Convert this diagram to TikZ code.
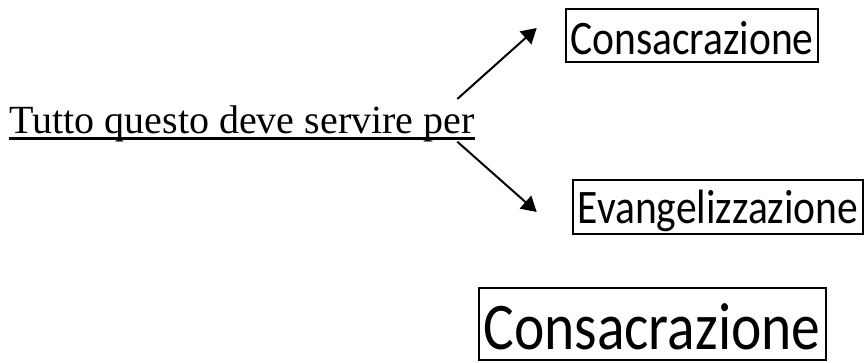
\documentclass[tikz,border=0pt]{standalone}
\usepackage{fontspec}
\setmainfont{Liberation Serif}
\newfontfamily\boxfont{Carlito}
\usetikzlibrary{arrows.meta}
\tikzset{
  labelbox/.style={draw, line width=2pt, inner sep=0pt, text depth=0pt, align=center},
  arr/.style={line width=2pt, -{Triangle[length=15pt,width=17pt]}},
}
\begin{document}
\begin{tikzpicture}[x=1pt,y=-1pt]
\useasboundingbox (0,0) rectangle (864,363);
% main text
\node[inner sep=0pt, anchor=base west] (t) at (9.3,134)
  {\fontsize{40}{44}\selectfont Tutto questo deve servire per};
\draw[line width=2.2pt] ([yshift=-4.6pt]t.base west) -- ([yshift=-4.6pt]t.base east);
% boxes
\node[labelbox, minimum width=252pt, minimum height=53pt, text height=39pt] (c1) at (692,35.5)
  {\boxfont\fontsize{41.5}{44}\selectfont\scalebox{1}[1.16]{Consacrazione}};
\node[labelbox, minimum width=290pt, minimum height=54pt, text height=32.6pt] (e1) at (718,207)
  {\boxfont\fontsize{41.5}{44}\selectfont\scalebox{1}[1.16]{Evangelizzazione}};
\node[labelbox, minimum width=347pt, minimum height=72pt, text height=51pt] (c2) at (652,324)
  {\boxfont\fontsize{57.5}{60}\selectfont\scalebox{1}[1.16]{Consacrazione}};
% arrows
\coordinate (a1s) at (457.3,99);
\coordinate (a1e) at (536.7,28);
\coordinate (a2s) at (457.3,141.7);
\coordinate (a2e) at (536.7,212);
\draw[arr] (a1s) -- (a1e);
\draw[arr] (a2s) -- (a2e);
\end{tikzpicture}
\end{document}
